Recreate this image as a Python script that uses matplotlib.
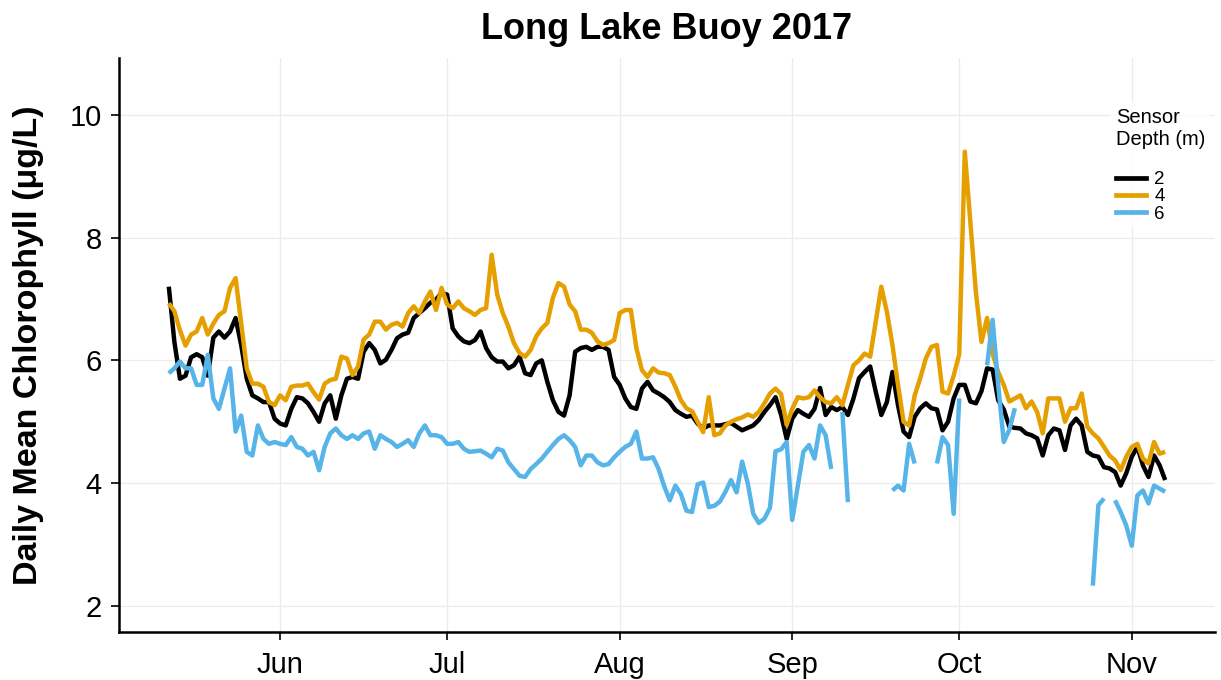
import numpy as np
import pandas as pd
import matplotlib
matplotlib.use("Agg")
import matplotlib.pyplot as plt
import matplotlib.dates as mdates
from matplotlib.lines import Line2D

nan = np.nan

# daily dates, 12 May - 7 Nov 2017
dates = pd.date_range("2017-05-12", "2017-11-07", freq="D")

chl_2m = [
    7.20, 6.30, 5.70, 5.75, 6.05, 6.10, 6.05, 5.75, 6.37, 6.47,
    6.37, 6.47, 6.69, 6.25, 5.70, 5.43, 5.38, 5.32, 5.32, 5.05,
    4.97, 4.94, 5.21, 5.40, 5.38, 5.30, 5.16, 5.00, 5.30, 5.43,
    5.05, 5.43, 5.70, 5.73, 5.70, 6.14, 6.28, 6.17, 5.95, 6.01,
    6.17, 6.36, 6.42, 6.45, 6.69, 6.77, 6.85, 6.94, 6.99, 7.10,
    7.07, 6.52, 6.39, 6.31, 6.28, 6.33, 6.47, 6.20, 6.05, 5.98,
    5.98, 5.87, 5.92, 6.06, 5.79, 5.76, 5.95, 6.00, 5.65, 5.35,
    5.16, 5.10, 5.43, 6.14, 6.20, 6.22, 6.17, 6.22, 6.22, 6.17,
    5.73, 5.60, 5.38, 5.24, 5.21, 5.54, 5.65, 5.51, 5.46, 5.40,
    5.32, 5.19, 5.13, 5.08, 5.10, 4.97, 4.89, 4.94, 4.94, 4.94,
    4.96, 4.98, 4.92, 4.86, 4.90, 4.94, 5.03, 5.16, 5.27, 5.40,
    5.11, 4.72, 5.05, 5.19, 5.13, 5.08, 5.21, 5.55, 5.11, 5.24,
    5.19, 5.24, 5.11, 5.38, 5.71, 5.81, 5.90, 5.49, 5.11, 5.32,
    5.81, 5.27, 4.84, 4.75, 5.08, 5.22, 5.30, 5.22, 5.20, 4.86,
    5.00, 5.38, 5.60, 5.60, 5.33, 5.30, 5.50, 5.87, 5.85, 5.35,
    5.20, 4.92, 4.90, 4.89, 4.81, 4.78, 4.73, 4.45, 4.78, 4.89,
    4.86, 4.54, 4.94, 5.05, 4.94, 4.51, 4.45, 4.43, 4.26, 4.24,
    4.18, 3.96, 4.16, 4.43, 4.59, 4.29, 4.10, 4.45, 4.29, 4.05,
]

chl_4m = [
    6.93, 6.80, 6.49, 6.24, 6.42, 6.47, 6.69, 6.42, 6.60, 6.74,
    6.80, 7.18, 7.34, 6.60, 5.87, 5.62, 5.62, 5.57, 5.32, 5.27,
    5.43, 5.35, 5.57, 5.59, 5.59, 5.62, 5.48, 5.36, 5.62, 5.68,
    5.70, 6.06, 6.03, 5.76, 5.90, 6.34, 6.42, 6.63, 6.63, 6.50,
    6.58, 6.61, 6.55, 6.77, 6.88, 6.77, 6.96, 7.12, 6.82, 7.18,
    6.91, 6.85, 6.96, 6.85, 6.80, 6.74, 6.82, 6.85, 7.72, 7.07,
    6.77, 6.55, 6.28, 6.12, 6.06, 6.17, 6.39, 6.52, 6.61, 7.02,
    7.26, 7.20, 6.91, 6.80, 6.50, 6.50, 6.45, 6.31, 6.25, 6.28,
    6.33, 6.77, 6.82, 6.82, 6.20, 5.84, 5.73, 5.87, 5.80, 5.79,
    5.76, 5.57, 5.35, 5.22, 5.17, 5.00, 4.83, 5.40, 4.78, 4.81,
    4.94, 5.00, 5.04, 5.07, 5.12, 5.08, 5.16, 5.30, 5.46, 5.54,
    5.45, 4.95, 5.21, 5.40, 5.38, 5.40, 5.51, 5.40, 5.32, 5.30,
    5.40, 5.27, 5.60, 5.92, 6.00, 6.11, 6.06, 6.63, 7.20, 6.79,
    6.25, 5.60, 5.00, 4.94, 5.43, 5.71, 6.03, 6.22, 6.25, 5.49,
    5.46, 5.75, 6.10, 9.40, 8.25, 7.10, 6.30, 6.69, 6.10, 5.81,
    5.60, 5.33, 5.38, 5.43, 5.22, 5.33, 5.16, 4.81, 5.38, 5.38,
    5.38, 5.00, 5.22, 5.22, 5.46, 4.92, 4.81, 4.73, 4.59, 4.45,
    4.37, 4.21, 4.43, 4.59, 4.64, 4.40, 4.32, 4.67, 4.48, 4.51,
]

chl_6m = [
    5.79, 5.87, 5.98, 5.87, 5.87, 5.60, 5.60, 6.09, 5.38, 5.21,
    5.54, 5.87, 4.84, 5.10, 4.51, 4.45, 4.94, 4.72, 4.64, 4.67,
    4.64, 4.62, 4.75, 4.59, 4.56, 4.45, 4.51, 4.21, 4.59, 4.81,
    4.89, 4.78, 4.72, 4.78, 4.72, 4.81, 4.84, 4.56, 4.78, 4.72,
    4.67, 4.59, 4.64, 4.70, 4.59, 4.81, 4.94, 4.78, 4.78, 4.75,
    4.64, 4.64, 4.67, 4.56, 4.51, 4.52, 4.53, 4.48, 4.42, 4.56,
    4.53, 4.34, 4.23, 4.12, 4.10, 4.23, 4.31, 4.40, 4.51, 4.62,
    4.72, 4.78, 4.70, 4.59, 4.29, 4.45, 4.45, 4.34, 4.29, 4.31,
    4.42, 4.51, 4.59, 4.64, 4.84, 4.40, 4.40, 4.42, 4.23, 3.95,
    3.72, 3.96, 3.82, 3.55, 3.53, 3.98, 4.01, 3.61, 3.63, 3.70,
    3.86, 4.05, 3.85, 4.35, 4.00, 3.50, 3.35, 3.42, 3.60, 4.52,
    4.55, 4.67, 3.40, 3.96, 4.51, 4.62, 4.40, 4.94, 4.78, 4.23,
    nan, 5.16, 3.69, nan, nan, nan, nan, nan, nan, nan,
    3.88, 3.96, 3.88, 4.64, 4.32, nan, nan, nan, 4.32, 4.75,
    4.62, 3.50, 5.38, nan, nan, nan, nan, 5.92, 6.66, 5.60,
    4.67, 4.87, 5.22, nan, nan, nan, nan, nan, nan, nan,
    nan, nan, nan, nan, nan, nan, 2.33, 3.64, 3.75, nan,
    3.72, 3.53, 3.31, 2.98, 3.80, 3.88, 3.67, 3.96, 3.91, 3.86,
]

depth_labels = ["2", "4", "6"]
colors = ["#000000", "#E69F00", "#56B4E9"]

plt.rcParams["font.family"] = ["Liberation Sans", "DejaVu Sans"]

fig = plt.figure(figsize=(12.21, 6.80), dpi=100)
ax = fig.add_axes([119 / 1221, 1 - 632 / 680, (1215 - 119) / 1221, (632 - 58) / 680])

for vals, col in zip([chl_2m, chl_4m, chl_6m], colors):
    ax.plot(dates, vals, color=col, lw=3.2, solid_joinstyle="round",
            solid_capstyle="butt")

pad = pd.Timedelta(days=8.95)
ax.set_xlim(dates[0] - pad, dates[-1] + pad)
ax.set_ylim(1.575, 10.925)
ax.set_yticks([2, 4, 6, 8, 10])
ax.xaxis.set_major_locator(mdates.MonthLocator(bymonth=range(6, 12)))
ax.xaxis.set_major_formatter(mdates.DateFormatter("%b"))

ax.grid(True, color="#EBEBEB", lw=0.9)
ax.set_axisbelow(True)
for s in ["top", "right"]:
    ax.spines[s].set_visible(False)
for s in ["left", "bottom"]:
    ax.spines[s].set_linewidth(1.8)
ax.tick_params(axis="both", labelsize=21, length=5.5, width=1.2, color="black")
ax.tick_params(axis="y", pad=7)
ax.tick_params(axis="x", pad=8.5)

ax.set_title("Long Lake Buoy 2017", fontsize=26, fontweight="bold", pad=14)
ax.set_ylabel("Daily Mean Chlorophyll (\u03bcg/L)", fontsize=24.5, fontweight="bold")
ax.yaxis.set_label_coords(-(119 - 44) / 1096, 0.5)

handles = [Line2D([], [], color=c, lw=3.4) for c in colors]
leg = ax.legend(handles, depth_labels, title="Sensor\nDepth (m)",
                loc="upper left", bbox_to_anchor=(1101 / 1221, 1 - 93 / 680),
                bbox_transform=fig.transFigure, frameon=True, fontsize=13.5,
                title_fontsize=14.5, handlelength=1.6, handletextpad=0.45,
                labelspacing=0.0, borderpad=0.3)
leg.get_frame().set_facecolor("white")
leg.get_frame().set_edgecolor("none")
leg._legend_box.align = "left"
leg._legend_box.sep = 16

fig.savefig("out.png", dpi=100)
